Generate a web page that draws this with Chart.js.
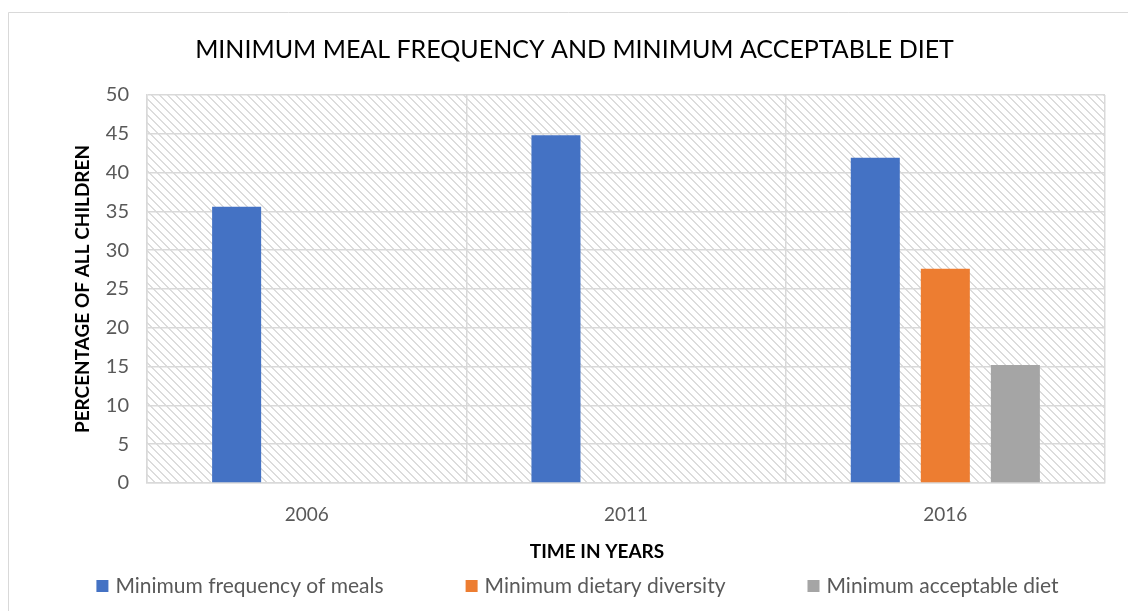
<!DOCTYPE html>
<html>
<head>
<meta charset="utf-8">
<script src="https://cdn.jsdelivr.net/npm/chart.js@4.4.1/dist/chart.umd.min.js"></script>
<style>
html,body{margin:0;padding:0;background:#fff;}
#wrap{width:1128px;height:611px;position:relative;}
</style>
</head>
<body>
<div id="wrap"><canvas id="c" width="1128" height="611"></canvas></div>
<script>
const categories = ['2006', '2011', '2016'];
const seriesNames = ['Minimum frequency of meals', 'Minimum dietary diversity', 'Minimum acceptable diet'];
const mealFrequency = [35.6, 44.8, 41.9];
const dietaryDiversity = [null, null, 27.6];
const acceptableDiet = [null, null, 15.2];
const yTicks = [0, 5, 10, 15, 20, 25, 30, 35, 40, 45, 50];
const xTitle = 'TIME IN YEARS';

const FONT = 'Lato, "Open Sans", sans-serif';

function makePattern(ctx) {
  const t = document.createElement('canvas');
  t.width = 8; t.height = 8;
  const g = t.getContext('2d');
  g.fillStyle = '#ffffff';
  g.fillRect(0, 0, 8, 8);
  g.fillStyle = '#dcdcdc';
  for (let i = 0; i < 8; i++) {
    g.fillRect(i, i, 1, 1);
    g.fillRect((i + 1) % 8, i, 1, 1);
  }
  return ctx.createPattern(t, 'repeat');
}

const bgPlugin = {
  id: 'bg',
  beforeDraw(chart) {
    const {ctx, chartArea: a} = chart;
    ctx.save();
    ctx.fillStyle = '#ffffff';
    ctx.fillRect(0, 0, chart.width, chart.height);
    ctx.strokeStyle = '#d9d9d9';
    ctx.lineWidth = 1;
    ctx.beginPath();
    ctx.moveTo(8.5, chart.height);
    ctx.lineTo(8.5, 12.5);
    ctx.lineTo(chart.width, 12.5);
    ctx.stroke();
    ctx.fillStyle = makePattern(ctx);
    ctx.fillRect(a.left, a.top, a.right - a.left, a.bottom - a.top);
    ctx.restore();
  }
};

// x-axis title and spaced legend, drawn from the chart's own data
const textPlugin = {
  id: 'texts',
  afterDraw(chart) {
    const ctx = chart.ctx;
    ctx.save();
    ctx.fillStyle = '#000000';
    ctx.font = 'bold 19px ' + FONT;
    ctx.textAlign = 'center';
    ctx.textBaseline = 'middle';
    ctx.fillText(xTitle, 597, 552);

    ctx.font = '21px ' + FONT;
    ctx.textAlign = 'left';
    const box = 12, gap = 7, itemGap = 82;
    const items = chart.data.datasets.map(d => ({text: d.label, color: d.backgroundColor, w: box + gap + ctx.measureText(d.label).width}));
    const total = items.reduce((s, it) => s + it.w, 0) + itemGap * (items.length - 1);
    let x = 577.5 - total / 2;
    const y = 586;
    items.forEach(it => {
      ctx.fillStyle = it.color;
      ctx.fillRect(x, y - box / 2, box, box);
      ctx.fillStyle = '#595959';
      ctx.fillText(it.text, x + box + gap, y);
      x += it.w + itemGap;
    });
    ctx.restore();
  }
};

new Chart(document.getElementById('c'), {
  type: 'bar',
  data: {
    labels: categories,
    datasets: [
      {label: seriesNames[0], data: mealFrequency, backgroundColor: '#4472C4'},
      {label: seriesNames[1], data: dietaryDiversity, backgroundColor: '#ED7D31'},
      {label: seriesNames[2], data: acceptableDiet, backgroundColor: '#A5A5A5'}
    ]
  },
  options: {
    responsive: false,
    animation: false,
    devicePixelRatio: 1,
    categoryPercentage: 0.658,
    barPercentage: 0.70,
    layout: {padding: {left: 21, right: 0, top: 0, bottom: 50}},
    plugins: {
      title: {
        display: true,
        text: 'MINIMUM MEAL FREQUENCY AND MINIMUM ACCEPTABLE DIET',
        color: '#000000',
        font: {family: FONT, size: 25, weight: 'normal', lineHeight: 1.2},
        padding: {top: 35, bottom: 30}
      },
      legend: {display: false},
      tooltip: {enabled: false}
    },
    scales: {
      x: {
        grid: {display: true, offset: true, color: '#d9d9d9', lineWidth: 1.5, drawTicks: false},
        border: {display: true, color: '#d9d9d9', width: 1.5},
        ticks: {color: '#595959', font: {family: FONT, size: 19}, padding: 20},
        afterFit(s) { s.height = 78; }
      },
      y: {
        min: 0, max: 50,
        afterBuildTicks(s) { s.ticks = yTicks.map(v => ({value: v})); },
        grid: {color: '#d9d9d9', lineWidth: 1.5, drawTicks: false},
        border: {display: true, color: '#d9d9d9', width: 1.5},
        ticks: {color: '#595959', font: {family: FONT, size: 20}, padding: 18},
        title: {display: true, text: 'PERCENTAGE OF ALL CHILDREN', color: '#000000', font: {family: FONT, size: 19, weight: 'bold'}, padding: {top: 50, bottom: 0}},
        afterFit(s) { s.width = 126; }
      },
      yPad: {
        type: 'linear',
        position: 'right',
        display: true,
        grid: {display: false, drawTicks: false},
        border: {display: false},
        ticks: {display: false},
        afterFit(s) { s.width = 23; }
      }
    }
  },
  plugins: [bgPlugin, textPlugin]
});
</script>
</body>
</html>
